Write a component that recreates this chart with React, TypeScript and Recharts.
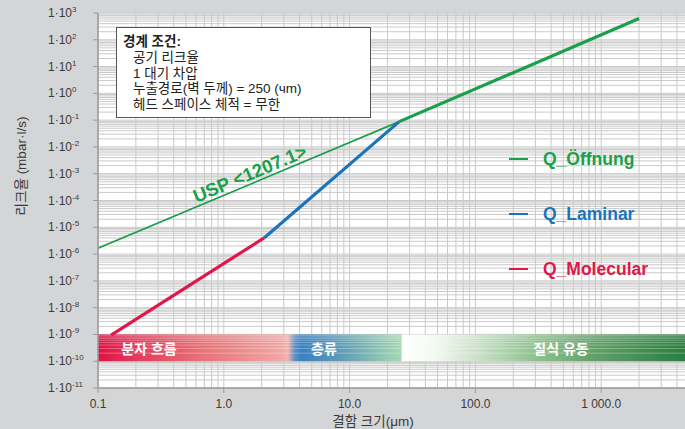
import React from 'react';
import {
  LineChart,
  Line,
  XAxis,
  YAxis,
  CartesianGrid,
  ReferenceArea,
  ReferenceLine,
} from 'recharts';

const FONT = '"Liberation Sans", Arial, "Noto Sans CJK KR", sans-serif';

// ---- data ----
const xDecades = [0.1, 1, 10, 100, 1000];
const xTickLabels = ['0.1', '1.0', '10.0', '100.0', '1 000.0'];
const yExponents = [3, 2, 1, 0, -1, -2, -3, -4, -5, -6, -7, -8, -9, -10, -11];

const orificeThin = [
  { x: 0.1, y: 1.65e-6 },
  { x: 24.8, y: 0.088 },
];
const orificeThick = [
  { x: 24.8, y: 0.088 },
  { x: 2000, y: 620 },
];
const laminar = [
  { x: 2.09, y: 4e-6 },
  { x: 24.8, y: 0.088 },
];
const molecular = [
  { x: 0.127, y: 9.5e-10 },
  { x: 2.09, y: 4e-6 },
];

const bandLow = 1e-10;
const bandHigh = 1e-9;
const bandSplit = 26;
const bandLabels = ['분자 흐름', '층류', '질식 유동'];
const legendLabels = ['Q_Öffnung', 'Q_Laminar', 'Q_Molecular'];
const boxTitle = '경계 조건:';
const boxLines = ['공기 리크율', '1 대기 차압', '누출경로(벽 두께) = 250 (чm)', '헤드 스페이스 체적 = 무한'];

// ---- tick sets (grid) ----
const xTicks: number[] = [];
for (let e = -1; e <= 3; e++) for (let k = 1; k <= 9; k++) xTicks.push(Number((k * Math.pow(10, e)).toPrecision(3)));
xTicks.push(10000);
const yTicks: number[] = [];
for (let e = -11; e <= 2; e++) for (let k = 1; k <= 9; k++) yTicks.push(Number((k * Math.pow(10, e)).toPrecision(3)));
yTicks.push(1000);
const bandMinor: number[] = [2, 3, 4, 5, 6, 7, 8, 9].map((k) => k * 1e-10);

const GREEN = '#1a9f4b';
const BLUE = '#1b74bb';
const RED = '#e2164a';
const TXT = '#3a3a3a';

const isDecade = (v: number) => {
  const l = Math.log10(v);
  return Math.abs(l - Math.round(l)) < 1e-6;
};

const XTick = (props: any) => {
  const { x, payload } = props;
  const v = payload.value;
  if (!isDecade(v)) return <g />;
  const i = xDecades.findIndex((d) => Math.abs(d - v) / d < 1e-6);
  if (i < 0) return <g />;
  return (
    <g>
      <line x1={x} x2={x} y1={388} y2={393} stroke="#9a9a9a" />
      <text x={x} y={408} textAnchor="middle" fontSize={12} fill={TXT} fontFamily={FONT}>
        {xTickLabels[i]}
      </text>
    </g>
  );
};

const YTick = (props: any) => {
  const { y, payload } = props;
  const v = payload.value;
  if (!isDecade(v)) return <g />;
  const e = Math.round(Math.log10(v));
  if (!yExponents.includes(e)) return <g />;
  return (
    <g>
      <line x1={93} x2={98} y1={y} y2={y} stroke="#9a9a9a" />
      <text x={48} y={y + 4} fontSize={12} fill={TXT} fontFamily={FONT}>
        1·10
        <tspan fontSize={8} dy={-5}>
          {e < 0 ? '-' + Math.abs(e) : String(e)}
        </tspan>
      </text>
    </g>
  );
};

const abs = (x: number, y: number, extra: React.CSSProperties = {}): React.CSSProperties => ({
  position: 'absolute',
  left: x,
  top: y,
  whiteSpace: 'nowrap',
  fontFamily: FONT,
  ...extra,
});

export default function App() {
  return (
    <div
      style={{
        position: 'absolute',
        left: 0,
        top: 0,
        width: 685,
        height: 429,
        overflow: 'hidden',
        background: '#d4d5d7',
        fontFamily: FONT,
      }}
    >
      <svg width={0} height={0} style={{ position: 'absolute' }}>
        <defs>
          <linearGradient id="bandA" x1="0" y1="0" x2="1" y2="0">
            <stop offset="0" stopColor="#de1145" />
            <stop offset="0.12" stopColor="#e2395a" />
            <stop offset="0.35" stopColor="#e87478" />
            <stop offset="0.6" stopColor="#f0a6a4" />
            <stop offset="0.625" stopColor="#f2b4ae" />
            <stop offset="0.648" stopColor="#5a90c8" />
            <stop offset="0.67" stopColor="#3a7fc2" />
            <stop offset="0.8" stopColor="#5e9db6" />
            <stop offset="1" stopColor="#a6dab2" />
          </linearGradient>
          <linearGradient id="bandB" x1="0" y1="0" x2="1" y2="0">
            <stop offset="0" stopColor="#ffffff" />
            <stop offset="0.1" stopColor="#f4f9f2" />
            <stop offset="0.4" stopColor="#93c493" />
            <stop offset="0.6" stopColor="#5f9f68" />
            <stop offset="0.87" stopColor="#2a7e40" />
            <stop offset="1" stopColor="#1a7035" />
          </linearGradient>
        </defs>
      </svg>
      <LineChart width={730} height={429} margin={{ top: 13, right: 3, bottom: 0, left: 0 }}>
        <CartesianGrid stroke="#cacaca" fill="#ffffff" horizontal vertical />
        <XAxis
          dataKey="x"
          type="number"
          scale="log"
          domain={[0.1, 10000]}
          ticks={xTicks}
          interval={0}
          allowDataOverflow
          height={41}
          axisLine={{ stroke: '#9a9a9a', strokeWidth: 1.5 }}
          tickLine={false}
          tick={<XTick />}
        />
        <YAxis
          dataKey="y"
          type="number"
          scale="log"
          domain={[1e-11, 1000]}
          ticks={yTicks}
          interval={0}
          allowDataOverflow
          width={98}
          axisLine={{ stroke: '#9a9a9a', strokeWidth: 1.5 }}
          tickLine={false}
          tick={<YTick />}
        />
        <ReferenceArea x1={0.1} x2={bandSplit} y1={bandLow} y2={bandHigh} fill="url(#bandA)" fillOpacity={1} stroke="none" />
        <ReferenceArea x1={bandSplit} x2={10000} y1={bandLow} y2={bandHigh} fill="url(#bandB)" fillOpacity={1} stroke="none" />
        {bandMinor.map((v) => (
          <ReferenceLine
            key={v}
            segment={[
              { x: 0.1, y: v },
              { x: 10000, y: v },
            ]}
            stroke="#ffffff"
            strokeOpacity={0.3}
          />
        ))}
        <Line data={orificeThin} dataKey="y" type="linear" stroke={GREEN} strokeWidth={1.7} dot={false} isAnimationActive={false} />
        <Line data={orificeThick} dataKey="y" type="linear" stroke={GREEN} strokeWidth={3.2} dot={false} isAnimationActive={false} />
        <Line data={laminar} dataKey="y" type="linear" stroke={BLUE} strokeWidth={3.2} dot={false} isAnimationActive={false} />
        <Line data={molecular} dataKey="y" type="linear" stroke={RED} strokeWidth={3.2} dot={false} isAnimationActive={false} />
      </LineChart>

      {/* band labels */}
      <div style={abs(149, 348, { transform: 'translate(-50%,-50%)', color: '#fff', fontSize: 14, fontWeight: 600 })}>{bandLabels[0]}</div>
      <div style={abs(324, 348, { transform: 'translate(-50%,-50%)', color: '#fff', fontSize: 14, fontWeight: 600 })}>{bandLabels[1]}</div>
      <div style={abs(561, 348, { transform: 'translate(-50%,-50%)', color: '#fff', fontSize: 14, fontWeight: 600 })}>{bandLabels[2]}</div>

      {/* boundary conditions box */}
      <div
        style={abs(116, 27, {
          width: 253,
          height: 89,
          background: '#fff',
          border: '1px solid #555',
        })}
      />
      <div style={abs(123, 40, { transform: 'translateY(-50%)', fontSize: 13.5, fontWeight: 700, color: '#222' })}>{boxTitle}</div>
      {boxLines.map((t, i) => (
        <div key={t} style={abs(133, 56 + i * 15.7, { transform: 'translateY(-50%)', fontSize: 13.5, color: '#222' })}>
          {t}
        </div>
      ))}

      {/* legend */}
      {[GREEN, BLUE, RED].map((c, i) => (
        <React.Fragment key={c}>
          <div style={abs(509, 158 + i * 55, { width: 19, height: 2, background: c })} />
          <div
            style={abs(543, 159 + i * 55, {
              transform: 'translateY(-50%)',
              fontSize: 17.5,
              fontWeight: 700,
              color: c,
            })}
          >
            {legendLabels[i]}
          </div>
        </React.Fragment>
      ))}

      {/* USP label */}
      <div
        style={abs(250, 174, {
          transform: 'translate(-50%,-50%) rotate(-22.8deg)',
          fontSize: 18.5,
          fontWeight: 700,
          color: GREEN,
        })}
      >
        USP &lt;1207.1&gt;
      </div>

      {/* axis titles */}
      <div style={abs(20, 166, { transform: 'translate(-50%,-50%) rotate(-90deg)', fontSize: 13.5, color: TXT })}>
        리크율 (mbar·l/s)
      </div>
      <div style={abs(373, 420, { transform: 'translate(-50%,-50%)', fontSize: 13.5, color: TXT })}>결함 크기(μm)</div>
    </div>
  );
}
